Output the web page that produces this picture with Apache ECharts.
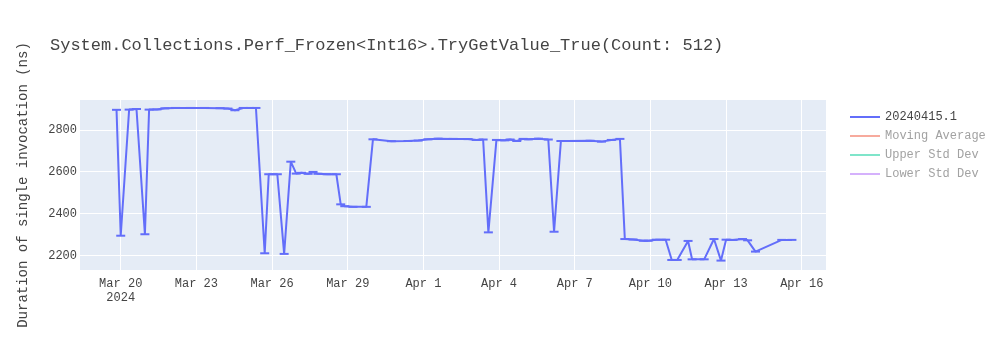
<!DOCTYPE html>
<html>
<head>
<meta charset="utf-8">
<script src="https://cdn.jsdelivr.net/npm/echarts@6/dist/echarts.min.js"></script>
<style>html,body{margin:0;padding:0;background:#fff}#c{width:1000px;height:350px}</style>
</head>
<body>
<div id="c"></div>
<script>
const dates = [
'2024-03-19 20:00','2024-03-20 00:00','2024-03-20 08:00','2024-03-20 15:00','2024-03-20 23:00',
'2024-03-21 03:00','2024-03-21 10:30','2024-03-21 18:00','2024-03-22 04:00','2024-03-22 18:00',
'2024-03-23 08:00','2024-03-23 22:30','2024-03-24 06:00','2024-03-24 12:40','2024-03-24 20:30',
'2024-03-25 03:00','2024-03-25 08:40','2024-03-25 17:00','2024-03-25 20:50','2024-03-26 05:00',
'2024-03-26 11:30','2024-03-26 17:50','2024-03-26 23:00','2024-03-27 04:00','2024-03-27 10:20',
'2024-03-27 15:00','2024-03-27 19:40','2024-03-28 04:20','2024-03-28 13:10','2024-03-28 17:20',
'2024-03-28 21:10','2024-03-29 05:00','2024-03-29 17:40','2024-03-30 00:00','2024-03-30 17:30',
'2024-03-31 09:20','2024-03-31 19:00','2024-04-01 04:20','2024-04-01 14:00','2024-04-02 04:20',
'2024-04-02 18:30','2024-04-03 02:20','2024-04-03 08:50','2024-04-03 13:50','2024-04-03 21:30',
'2024-04-04 05:30','2024-04-04 10:30','2024-04-04 16:50','2024-04-04 22:50','2024-04-05 03:50',
'2024-04-05 13:30','2024-04-05 22:50','2024-04-06 04:20','2024-04-06 10:50','2024-04-06 17:40',
'2024-04-07 14:40','2024-04-08 01:30','2024-04-08 10:50','2024-04-08 19:00','2024-04-08 23:40',
'2024-04-09 07:30','2024-04-09 17:20','2024-04-09 21:50','2024-04-10 05:40','2024-04-10 14:30',
'2024-04-10 20:20','2024-04-11 01:30','2024-04-11 11:50','2024-04-11 15:40','2024-04-12 03:10',
'2024-04-12 12:30','2024-04-12 19:10','2024-04-13 00:00','2024-04-13 06:40','2024-04-13 15:40',
'2024-04-13 20:30','2024-04-14 04:00','2024-04-15 05:00','2024-04-15 14:40'
];
const values = [
2896,2294,2897,2900,2301,
2897,2898,2903,2905,2905,
2905,2904,2902,2894,2905,
2905,2905,2210,2588,2588,
2207,2648,2591,2595,2590,
2599,2590,2588,2588,2444,
2435,2432,2432,2755,2746,
2747,2749,2755,2758,2757,
2756,2752,2754,2310,2752,
2750,2754,2747,2757,2755,
2758,2754,2313,2747,2747,
2748,2744,2752,2757,2278,
2276,2270,2270,2275,2275,
2178,2178,2269,2181,2181,
2278,2175,2275,2274,2278,
2272,2218,2274,2274
];
const xTickDates = ['2024-03-20 00:00','2024-03-23 00:00','2024-03-26 00:00','2024-03-29 00:00','2024-04-01 00:00',
                    '2024-04-04 00:00','2024-04-07 00:00','2024-04-10 00:00','2024-04-13 00:00','2024-04-16 00:00'];
const yTicks = [2200, 2400, 2600, 2800];
const seriesNames = ['20240415.1', 'Moving Average', 'Upper Std Dev', 'Lower Std Dev'];
const titleText = 'System.Collections.Perf_Frozen<Int16>.TryGetValue_True(Count: 512)';
const yTitle = 'Duration of single invocation (ns)';

const MONTHS = ['Jan','Feb','Mar','Apr','May','Jun','Jul','Aug','Sep','Oct','Nov','Dec'];
function toMs(s) {
  const m = s.match(/(\d+)-(\d+)-(\d+) (\d+):(\d+)/);
  return new Date(+m[1], +m[2]-1, +m[3], +m[4], +m[5]).getTime();
}
const xTicks = xTickDates.map(toMs);
const xMin = toMs('2024-03-18 09:15');
const xMax = toMs('2024-04-16 23:05');
const FONT = '"Liberation Mono", "Courier New", monospace';

const chart = echarts.init(document.getElementById('c'), null, {renderer: 'canvas'});
chart.setOption({
  animation: false,
  backgroundColor: '#ffffff',
  title: {
    text: titleText, left: 50, top: 37, padding: 0,
    textStyle: {fontFamily: FONT, fontSize: 17, fontWeight: 'normal', color: '#444444'}
  },
  grid: {left: 80, right: 174, top: 100, bottom: 80, show: true, backgroundColor: '#e5ecf6', borderWidth: 0},
  legend: {
    orient: 'vertical', left: 845, top: 106, itemGap: 7, itemWidth: 30, itemHeight: 2, icon: 'rect',
    textStyle: {fontFamily: FONT, fontSize: 12, color: '#444444'},
    data: [
      {name: seriesNames[0]},
      {name: seriesNames[1], textStyle: {color: '#a2a2a2'}},
      {name: seriesNames[2], textStyle: {color: '#a2a2a2'}},
      {name: seriesNames[3], textStyle: {color: '#a2a2a2'}}
    ]
  },
  xAxis: {
    type: 'value', min: xMin, max: xMax,
    axisLine: {show: false}, axisTick: {show: false, customValues: xTicks},
    splitLine: {show: true, lineStyle: {color: '#ffffff', width: 1}},
    axisLabel: {
      customValues: xTicks, margin: 7, color: '#444444', fontFamily: FONT, fontSize: 12, lineHeight: 14,
      hideOverlap: false,
      formatter: function (v) {
        const d = new Date(v);
        const s = MONTHS[d.getMonth()] + ' ' + d.getDate();
        return Math.abs(v - xTicks[0]) < 1000 ? s + '\n' + d.getFullYear() : s;
      }
    }
  },
  yAxis: {
    type: 'value', min: 2130, max: 2943,
    name: yTitle, nameLocation: 'middle', nameGap: 50, nameRotate: 90,
    nameTextStyle: {fontFamily: FONT, fontSize: 14, color: '#444444'},
    axisLine: {show: false}, axisTick: {show: false, customValues: yTicks},
    splitLine: {show: true, lineStyle: {color: '#ffffff', width: 1}},
    axisLabel: {customValues: yTicks, margin: 3, color: '#444444', fontFamily: FONT, fontSize: 12,
      formatter: function (v) { return String(v); }}
  },
  series: [
    {
      name: seriesNames[0], type: 'line',
      data: dates.map((d, i) => [toMs(d), values[i]]),
      color: '#636efa',
      lineStyle: {color: '#636efa', width: 2},
      itemStyle: {color: '#636efa'},
      symbol: 'rect', symbolSize: [9, 2], showSymbol: true, showAllSymbol: true
    },
    {name: seriesNames[1], type: 'line', data: [], color: 'rgba(239,85,59,0.5)', itemStyle: {color: 'rgba(239,85,59,0.5)'}},
    {name: seriesNames[2], type: 'line', data: [], color: 'rgba(0,204,150,0.5)', itemStyle: {color: 'rgba(0,204,150,0.5)'}},
    {name: seriesNames[3], type: 'line', data: [], color: 'rgba(171,99,250,0.5)', itemStyle: {color: 'rgba(171,99,250,0.5)'}}
  ]
});
</script>
</body>
</html>
